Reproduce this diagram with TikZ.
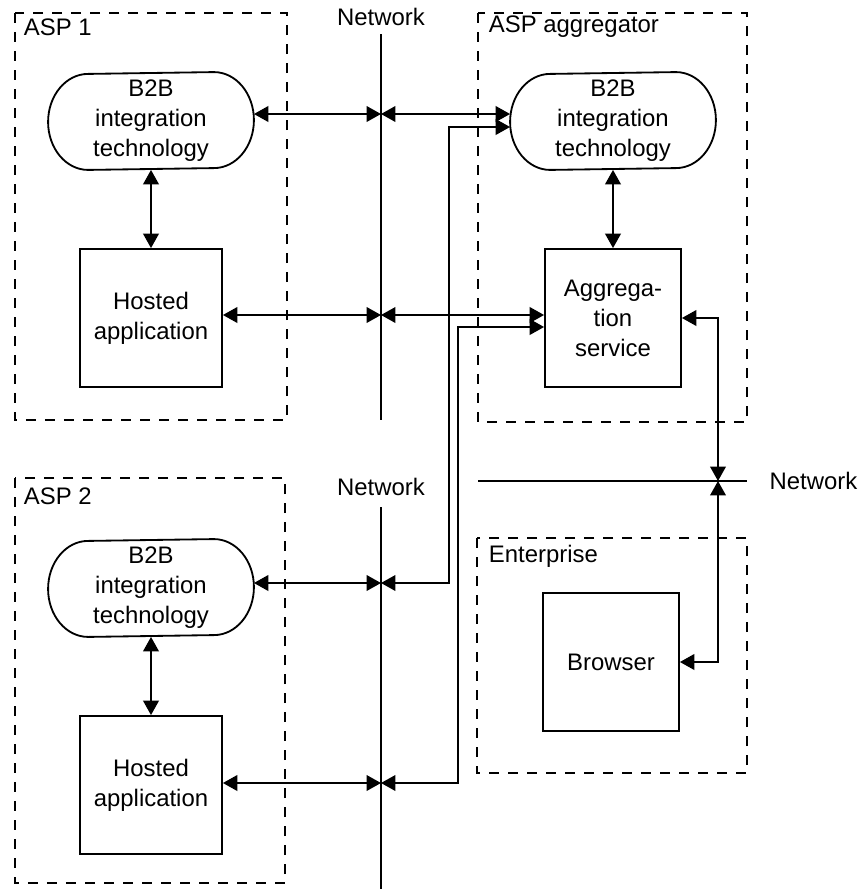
\documentclass[tikz,border=0pt]{standalone}
\usepackage{fontspec}
\setmainfont{Liberation Sans}
\usetikzlibrary{arrows.meta}
\begin{document}
\begin{tikzpicture}[x=2.5mm, y=-2.5mm, line width=1.3pt, >={Triangle[length=3.6mm,width=3.9mm]},
        every node/.style={font=\fontsize{17}{21.3}\selectfont, align=center},
        pill/.style={minimum width=51mm, minimum height=24mm, inner sep=0pt},
        box/.style={draw, minimum width=35.5mm, minimum height=34.5mm, inner sep=0pt},
        group/.style={draw, dash pattern=on 2.5mm off 2.25mm},
        grouplabel/.style={anchor=west, inner sep=0pt}]
                \useasboundingbox (0,0) rectangle (85.9,88.9);
                \draw [group] (1.5,1.3) rectangle (28.7,42);
                \draw [group] (47.8,1.3) rectangle (74.7,42.2);
                \draw [group] (1.5,47.8) rectangle (28.5,88.3);
                \draw [group] (47.7,53.8) rectangle (74.7,77.3);
                \node [grouplabel] (7) at (2.3,2.7) {ASP 1};
                \node [grouplabel] (8) at (48.8,2.7) {ASP aggregator};
                \node [grouplabel] (9) at (2.3,49.6) {ASP 2};
                \node [grouplabel] (10) at (48.8,55.6) {Enterprise};
                \node [pill] (0) at (15.1,12.1) {B2B\\integration\\technology};
                \node [box] (1) at (15.1,31.8) {Hosted\\application};
                \node [pill] (2) at (15.1,58.8) {B2B\\integration\\technology};
                \node [box] (3) at (15.1,78.5) {Hosted\\application};
                \node [pill] (4) at (61.3,12.1) {B2B\\integration\\technology};
                \node [box, minimum width=34mm] (5) at (61.3,31.8) {Aggrega-\\tion\\service};
                \node [box, minimum width=34mm] (6) at (61.1,66.2) {Browser};
                \foreach \n in {0,2,4}
                        \draw ([xshift=-10mm]\n.north east)
                                arc[start angle=90, end angle=-90, x radius=10mm, y radius=12mm]
                                -- ([xshift=10mm]\n.south west)
                                arc[start angle=270, end angle=90, x radius=10mm, y radius=12mm] -- cycle;
                \node (11) at (38.1,1.7) {Network};
                \node (12) at (38.1,48.7) {Network};
                \node [anchor=west] (13) at (76.4,48.1) {Network};
                \coordinate (14) at (38.1,3.4);
                \coordinate (15) at (38.1,42);
                \coordinate (16) at (38.1,50.7);
                \coordinate (17) at (38.1,88.9);
                \coordinate (18) at (47.8,48.1);
                \coordinate (19) at (74.7,48.1);
                \coordinate (20) at (38.1,11.4);
                \coordinate (21) at (38.1,31.5);
                \coordinate (22) at (38.1,58.3);
                \coordinate (23) at (38.1,78.3);
                \coordinate (24) at (71.8,48.1);
                \coordinate (25) at (44.9,12.7);
                \coordinate (26) at (45.8,32.7);
                \coordinate (27) at (71.8,31.8);
                \coordinate (28) at (71.8,66.2);
                \draw (14) -- (15);
                \draw (16) -- (17);
                \draw (18) -- (19);
                \draw [<->] (0) -- (1);
                \draw [<->] (2) -- (3);
                \draw [<->] (4) -- (5);
                \draw [<->] (20 -| 0.east) -- (20);
                \draw [<->] (20) -- (20 -| 4.west);
                \draw [<->] (21 -| 1.east) -- (21);
                \draw [<->] (21) -- (21 -| 5.west);
                \draw [<->] (22 -| 2.east) -- (22);
                \draw [<->] (22) -| (25) -- (25 -| 4.west);
                \draw [<->] (23 -| 3.east) -- (23);
                \draw [<->] (23) -| (26) -- (26 -| 5.west);
                \draw [<->] (27 -| 5.east) -- (27) -- (24);
                \draw [<->] (24) -- (28) -- (28 -| 6.east);
\end{tikzpicture}
\end{document}
